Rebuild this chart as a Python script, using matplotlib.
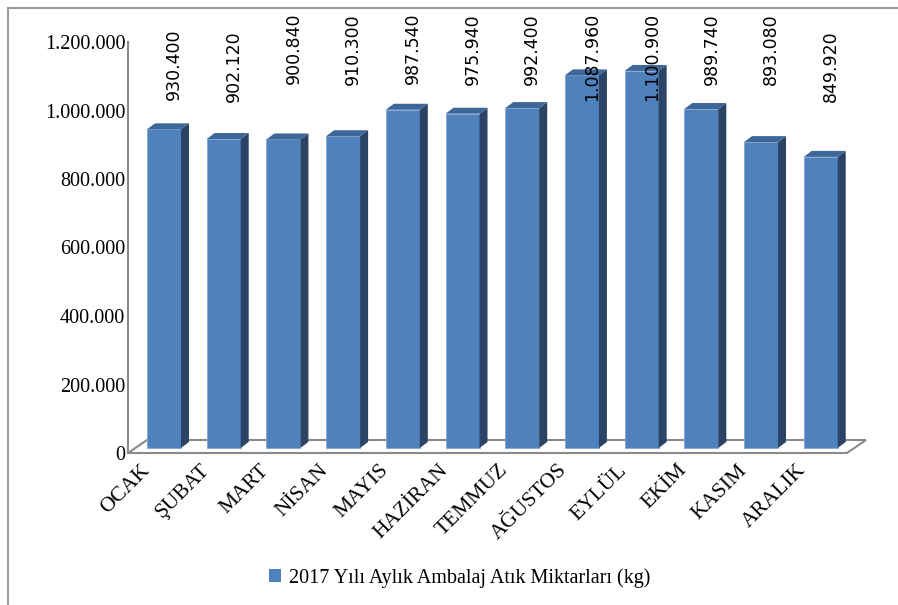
import numpy as np
import matplotlib
matplotlib.use('Agg')
import matplotlib.pyplot as plt
import matplotlib.transforms as mtransforms
from matplotlib.patches import Polygon, Rectangle, Patch
from matplotlib.ticker import FuncFormatter

# --- data
months = ['OCAK', 'ŞUBAT', 'MART', 'NİSAN', 'MAYIS', 'HAZİRAN', 'TEMMUZ',
          'AĞUSTOS', 'EYLÜL', 'EKİM', 'KASIM', 'ARALIK']
amounts = [930400, 902120, 900840, 910300, 987540, 975940, 992400,
           1087960, 1100900, 989740, 893080, 849920]
y_ticks = [0, 200000, 400000, 600000, 800000, 1000000, 1200000]
legend_label = '2017 Yılı Aylık Ambalaj Atık Miktarları (kg)'

# where excel put the rotated value labels (px from figure top)
label_top_px = [28, 30, 13, 13, 13, 13, 13, 13, 13, 13, 13, 30]

W, H = 898, 605
SERIF = 'Liberation Serif'
plt.rcParams['font.family'] = [SERIF, 'DejaVu Serif']
front_c = '#4f81bd'
side_c = '#2b4466'
top_c = '#3d6699'
line_c = '#8a8a8a'

fig = plt.figure(figsize=(W / 100, H / 100), dpi=100)
ax = fig.add_axes([128 / W, 1 - 453 / H, 719 / W, 411 / H])
ax.set_xlim(-0.603, 11.44)
ax.set_ylim(0, 1200000)

px_x = 1 / 59.7          # data units per pixel
px_y = 1200000 / 411

# floor of the 3d plot
x0, x1 = ax.get_xlim()
fdx, fdy = 19 * px_x, 13 * px_y
ax.add_patch(Polygon([(x0, 0), (x1, 0), (x1 + fdx, fdy), (x0 + fdx, fdy)],
                     closed=True, fc='white', ec=line_c, lw=1.5,
                     clip_on=False, zorder=1))

# bars: front face + fake depth
x = np.arange(len(months))
bw = 34 * px_x
base = 5 * px_y
dx, dy = 8 * px_x, 6 * px_y
ax.bar(x, amounts, width=bw, bottom=base, color=front_c,
       edgecolor='#86a6d2', linewidth=0.6, zorder=3)
for xi, v in zip(x, amounts):
    l, r = xi - bw / 2, xi + bw / 2
    t = base + v
    ax.add_patch(Polygon([(r, base), (r + dx, base + dy), (r + dx, t + dy), (r, t)],
                         closed=True, fc=side_c, ec='none', zorder=3, clip_on=False))
    ax.add_patch(Polygon([(l, t), (r, t), (r + dx, t + dy), (l + dx, t + dy)],
                         closed=True, fc=top_c, ec='none', zorder=3, clip_on=False))

# value labels
for xi, v, tp in zip(x, amounts, label_top_px):
    ax.text(xi + 0.17, (453 - tp) / 411, f'{v:,}'.replace(',', '.'),
            rotation=90, ha='center', va='top', fontsize=12.5,
            family='DejaVu Sans', transform=ax.get_xaxis_transform(), zorder=5)

# axes styling
for s in ['top', 'right', 'bottom']:
    ax.spines[s].set_visible(False)
ax.spines['left'].set_color(line_c)
ax.spines['left'].set_linewidth(1.5)
ax.set_yticks(y_ticks)
ax.yaxis.set_major_formatter(FuncFormatter(lambda v, p: f'{int(v):,}'.replace(',', '.')))
ax.tick_params(length=0)
ax.tick_params(axis='y', pad=2, labelsize=14.5)

ax.set_xticks(x)
ax.set_xticklabels(months, rotation=45, ha='right', va='top',
                   rotation_mode='anchor', fontsize=15.5)
shift = mtransforms.ScaledTranslation(-24 / 100, -3 / 100, fig.dpi_scale_trans)
for lab in ax.get_xticklabels():
    lab.set_transform(lab.get_transform() + shift)

fig.legend(handles=[Patch(fc=front_c)], labels=[legend_label], loc='center',
           bbox_to_anchor=(460 / W, 1 - 578 / H), frameon=False,
           prop={'size': 14.5},
           handlelength=0.6, handleheight=0.6, handletextpad=0.4)

# outer chart frame
fig.add_artist(Rectangle((8 / W, -0.5), 2, 1 - 8 / H + 0.5, transform=fig.transFigure,
                         fill=False, ec='#9a9a9a', lw=1.5))

fig.savefig('out.png', dpi=100)
